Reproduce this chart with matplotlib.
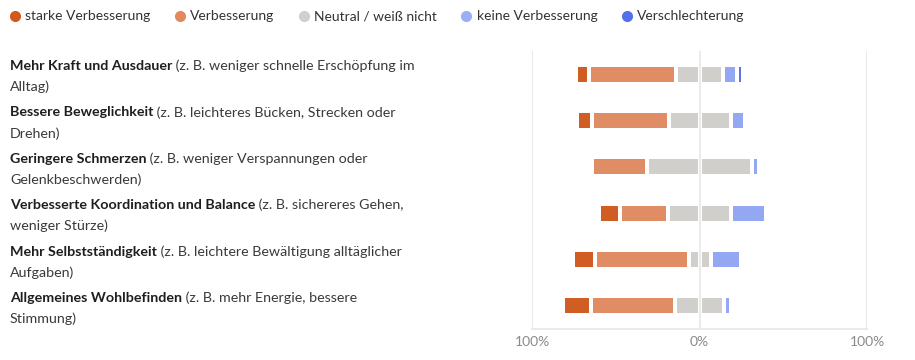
import matplotlib
matplotlib.use("Agg")
import matplotlib.pyplot as plt
from matplotlib.lines import Line2D
import numpy as np

plt.rcParams['font.family'] = ['Lato', 'DejaVu Sans']

# --- data (percent of respondents) ---

bold_parts = ['Mehr Kraft und Ausdauer', 'Bessere Beweglichkeit', 'Geringere Schmerzen',
              'Verbesserte Koordination und Balance', 'Mehr Selbstständigkeit',
              'Allgemeines Wohlbefinden']
rest_line1 = [' (z. B. weniger schnelle Erschöpfung im', ' (z. B. leichteres Bücken, Strecken oder',
              ' (z. B. weniger Verspannungen oder', ' (z. B. sichereres Gehen,',
              ' (z. B. leichtere Bewältigung alltäglicher', ' (z. B. mehr Energie, bessere']
line2 = ['Alltag)', 'Drehen)', 'Gelenkbeschwerden)', 'weniger Stürze)', 'Aufgaben)', 'Stimmung)']

series = ['starke Verbesserung', 'Verbesserung', 'Neutral / weiß nicht',
          'keine Verbesserung', 'Verschlechterung']
strong = [8, 8.5, 0, 12.5, 13, 16.5]
better = [52, 46, 33, 29, 56, 50]
neutral = [28, 37, 63, 37.5, 13, 29.5]
none_ = [8, 8.5, 4, 21, 18, 4]
worse = [4, 0, 0, 0, 0, 0]

colors = ['#D05E24', '#E08C64', '#D0CFCC', '#94A7F2', '#5A73E6']
legend_colors = ['#D05A1E', '#E4895E', '#CFCFCF', '#9AAEF5', '#5470E8']

# --- plot ---

W, H = 915, 360
fig = plt.figure(figsize=(W / 100, H / 100), dpi=100)
ax = fig.add_axes([532 / W, 1 - 329 / H, (867.3 - 532) / W, (329 - 51) / H])

y = np.arange(len(bold_parts))
s = np.array(strong, float)
b = np.array(better, float)
n = np.array(neutral, float)
k = np.array(none_, float)
w = np.array(worse, float)

# neutral is split in two halves around the 0 line
segs = [(s, -(s + b + n / 2), colors[0]),
        (b, -(b + n / 2), colors[1]),
        (n / 2, -n / 2, colors[2]),
        (n / 2, np.zeros_like(n), colors[2]),
        (k, n / 2, colors[3]),
        (w, n / 2 + k, colors[4])]
gap = 2.4
bar_h = 0.33

for vals, lefts, col in segs:
    for i in range(len(y)):
        if vals[i] <= 0:
            continue
        ax.barh(y[i], vals[i] - gap, left=lefts[i] + gap / 2, height=bar_h,
                color=col, linewidth=0, zorder=3)

ax.set_xlim(-100, 100)
ax.set_ylim(len(y) - 0.5, -0.5)
for xv in (-100, 0, 100):
    ax.axvline(xv, color='#EAEAEA', linewidth=1.5, zorder=1)
for sp in ['top', 'left', 'right']:
    ax.spines[sp].set_visible(False)
ax.spines['bottom'].set_color('#EAEAEA')
ax.spines['bottom'].set_linewidth(1.5)
ax.set_yticks([])
ax.set_xticks([-100, 0, 100])
ax.set_xticklabels(['100%', '0%', '100%'], color='#8A8A8A', fontsize=10)
ax.tick_params(axis='x', length=0, pad=5)

# --- row labels ---

fs = 10.3
fig.canvas.draw()
renderer = fig.canvas.get_renderer()
for i in range(len(y)):
    yc = ax.transData.transform((0, y[i]))[1]
    y1 = (yc + 8) / H
    y2 = (yc - 13) / H
    t = fig.text(10 / W, y1, bold_parts[i], fontsize=fs, fontweight='bold',
                 color='#1E1E1E', va='center', ha='left')
    bb = t.get_window_extent(renderer)
    fig.text(bb.x1 / W, y1, rest_line1[i], fontsize=fs, color='#3A3A3A',
             va='center', ha='left')
    fig.text(10 / W, y2, line2[i], fontsize=fs, color='#3A3A3A', va='center', ha='left')

# --- legend ---

handles = [Line2D([], [], marker='o', linestyle='', markersize=7, color=c) for c in legend_colors]
fig.legend(handles, series, loc='upper left', bbox_to_anchor=(-3 / W, 1 + 2 / H), ncol=5,
           frameon=False, fontsize=10, handlelength=0.8, handletextpad=0.35,
           columnspacing=1.7, labelcolor='#333333')

plt.savefig('out.png', dpi=100)
plt.close()
